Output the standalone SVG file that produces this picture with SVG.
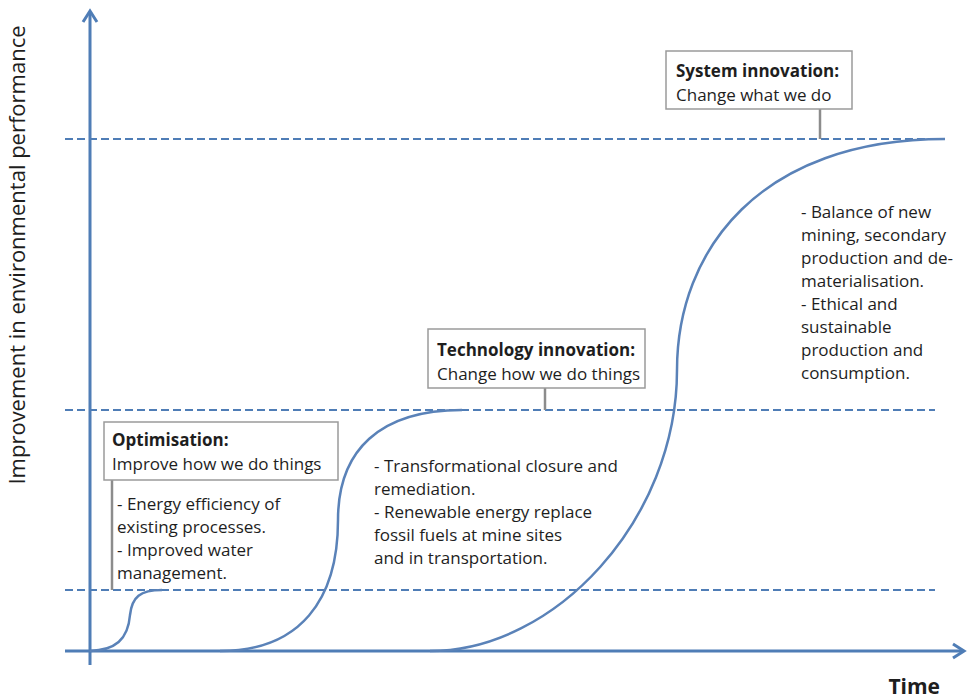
<svg xmlns="http://www.w3.org/2000/svg" width="967" height="699" viewBox="0 0 967 699">
<style>
.axis{stroke:#4f7db6;stroke-width:3;fill:none}
.dash{stroke:#4f7db6;stroke-width:2;stroke-dasharray:8 4;fill:none}
.curve{stroke:#5a82b8;stroke-width:2.5;fill:none}
.box{fill:#fff;stroke:#9a9a9a;stroke-width:1.5}
.lead{stroke:#8c8c8c;stroke-width:2.5;fill:none}
text{font-family:"Open Sans","Liberation Sans",sans-serif;fill:#1e1e1e;font-size:17px}
.b{font-weight:bold}
</style>
<rect width="967" height="699" fill="#fff"/>
<g id="axes">
<line class="axis" x1="90" y1="12" x2="90" y2="665"/>
<polyline class="axis" points="83,22 90,11 97,22"/>
<line class="axis" x1="65" y1="651" x2="963" y2="651"/>
<polyline class="axis" points="953,644 964,651 953,658"/>
<text x="25" y="255" transform="rotate(-90 25 255)" text-anchor="middle" style="font-size:22px">Improvement in environmental performance</text>
<text x="940" y="694" text-anchor="end" class="b" style="font-size:21px">Time</text>
</g>
<g id="connectors">
<line class="dash" x1="65" y1="139" x2="935" y2="139"/>
<line class="dash" x1="65" y1="410" x2="935" y2="410"/>
<line class="dash" x1="65" y1="590" x2="935" y2="590"/>
<path class="curve" d="M90,651 C115,650 128,640 130,615 C132,597 140,590 162,590"/>
<path class="curve" d="M220,651 C300,651 338,600 338,520 C338,450 380,410 462,410"/>
<path class="curve" d="M430,651 C555,651 677,520 677,370 C677,250 760,139 945,139"/>
<line class="lead" x1="112" y1="480" x2="112" y2="590"/>
<line class="lead" x1="545" y1="388" x2="545" y2="410"/>
<line class="lead" x1="820" y1="109" x2="820" y2="139"/>
</g>
<g id="optimisation">
<rect class="box" x="104" y="422" width="234" height="58"/>
<text x="112" y="446" class="b">Optimisation:</text>
<text x="112" y="470">Improve how we do things</text>
<text x="117" y="510">- Energy efficiency of</text>
<text x="117" y="533">existing processes.</text>
<text x="117" y="556">- Improved water</text>
<text x="117" y="579">management.</text>
</g>
<g id="technology">
<rect class="box" x="428" y="329" width="217" height="59"/>
<text x="437" y="356" class="b">Technology innovation:</text>
<text x="437" y="380">Change how we do things</text>
<text x="374" y="472">- Transformational closure and</text>
<text x="374" y="495">remediation.</text>
<text x="374" y="518">- Renewable energy replace</text>
<text x="374" y="541"> fossil fuels at mine sites</text>
<text x="374" y="564">and in transportation.</text>
</g>
<g id="system">
<rect class="box" x="666" y="51" width="186" height="58"/>
<text x="676" y="77" class="b">System innovation:</text>
<text x="676" y="101">Change what we do</text>
<text x="801" y="218">- Balance of new</text>
<text x="801" y="241">mining, secondary</text>
<text x="801" y="264">production and de-</text>
<text x="801" y="287">materialisation.</text>
<text x="801" y="310">- Ethical and</text>
<text x="801" y="333">sustainable</text>
<text x="801" y="356">production and</text>
<text x="801" y="379">consumption.</text>
</g>
</svg>
